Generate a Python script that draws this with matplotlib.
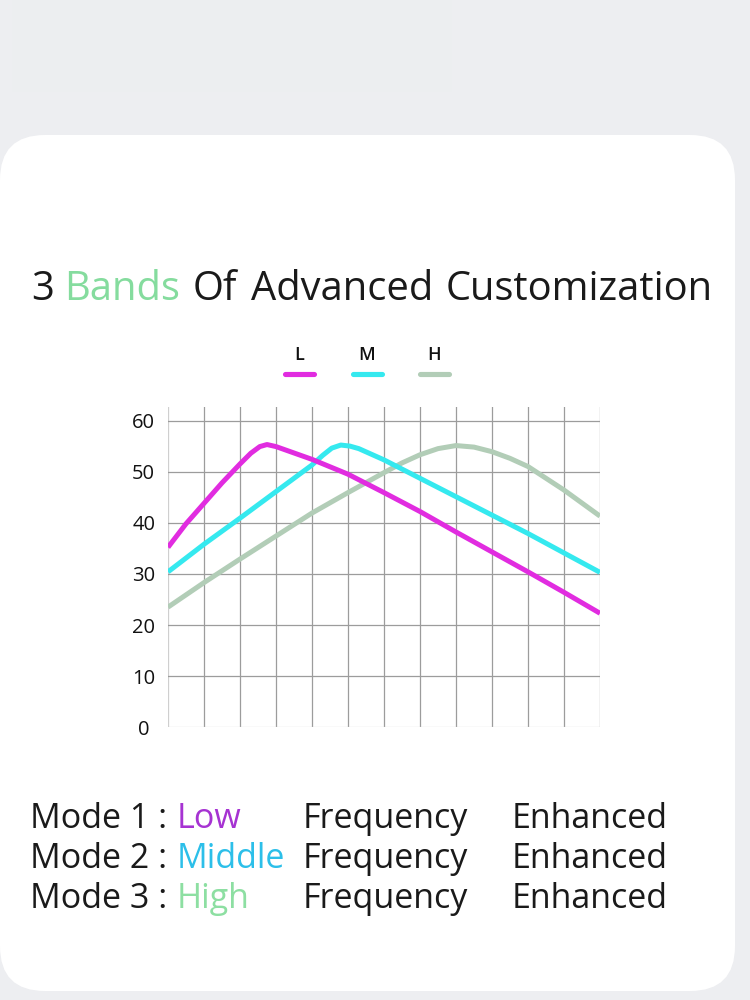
import matplotlib.pyplot as plt
from matplotlib.patches import FancyBboxPatch, Rectangle
from matplotlib.lines import Line2D
from matplotlib.transforms import Affine2D

# curve readings (x in grid columns, y in dB-like units)
low_x = [0, 0.5, 1, 1.5, 2, 2.3, 2.55, 2.75, 3, 4, 5, 6, 7, 8, 9, 10, 11, 12]
low_y = [35.2, 39.8, 43.8, 47.8, 51.5, 53.6, 54.9, 55.3, 54.9, 52.4, 49.5, 45.9, 42.2, 38.2, 34.3, 30.4, 26.4, 22.3]

mid_x = [0, 1, 2, 3, 4, 4.3, 4.55, 4.8, 5.05, 5.3, 6, 7, 8, 9, 10, 11, 12]
mid_y = [30.4, 35.8, 40.9, 46.1, 51.3, 53.2, 54.6, 55.2, 55.0, 54.5, 52.3, 48.7, 45.1, 41.5, 37.9, 34.1, 30.3]

high_x = [0, 1, 2, 3, 4, 5, 6, 6.5, 7, 7.5, 8, 8.5, 9, 9.5, 10, 11, 12]
high_y = [23.5, 28.3, 32.9, 37.4, 41.9, 45.9, 49.8, 51.7, 53.3, 54.5, 55.1, 54.8, 53.9, 52.6, 51.0, 46.4, 41.3]

y_ticks = [0, 10, 20, 30, 40, 50, 60]
x_grid = list(range(13))
legend_names = ["L", "M", "H"]
mode_names = ["Mode 1 :", "Mode 2 :", "Mode 3 :"]
band_words = ["Low", "Middle", "High"]
title_words = ["3", "Bands", "Of", "Advanced", "Customization"]

MAG = "#e12ce0"
CYAN = "#35e9ef"
SAGE = "#b2cdb7"
colors = [MAG, CYAN, SAGE]
word_colors = ["#a633d2", "#2cbfe9", "#8ddfa2"]
FONT = ["Open Sans", "DejaVu Sans"]
INK = "#1a1a1a"

W, H = 750, 1000
fig = plt.figure(figsize=(7.5, 10), dpi=100)
fig.patch.set_facecolor("#edeef1")

# pixel transform, y pointing down
pix = Affine2D().scale(1 / W, -1 / H).translate(0, 1) + fig.transFigure

fig.patches.append(Rectangle((12, 0), 440, 92, transform=pix, fc="#eceef0", ec="none", zorder=-6))
card = FancyBboxPatch((0, 135), 735, 856, boxstyle="round,pad=0,rounding_size=45",
                      transform=pix, fc="white", ec="none", zorder=-5)
fig.patches.append(card)

# title, one word at a time
TS = 28.7
title_x = [31, 64, 193, 251, 446]
for word, tx in zip(title_words, title_x):
    col = "#85dc9e" if word == "Bands" else INK
    fig.text(tx, 300.5, word, transform=pix, fontsize=TS, family=FONT, color=col, va="baseline")

# legend
for i, name in enumerate(legend_names):
    cx = 299.5 + i * 67.5
    fig.text(cx, 360.5, name, transform=pix, fontsize=13, family=FONT, color="#111111",
             ha="center", va="baseline", fontweight="semibold")
    fig.lines.append(Line2D([cx - 14.5, cx + 14.5], [374, 374], transform=pix, color=colors[i],
                            lw=3.7, solid_capstyle="round"))

# chart
ax = fig.add_axes([168 / W, 1 - 727.3 / H, 432 / W, 320.6 / H])
ax.set_facecolor("none")
ax.set_xlim(0, 12)
ax.set_ylim(0, 62.7)
for s in ax.spines.values():
    s.set_visible(False)
for xv in x_grid:
    ax.axvline(xv, color="#cfcfcf" if xv == 0 else "#9c9c9c", lw=0.9, zorder=1)
for yv in y_ticks:
    ax.axhline(yv, color="#d0d0d0" if yv == 0 else "#9c9c9c", lw=0.9, zorder=1)

ax.plot(high_x, high_y, color=SAGE, lw=3.6, solid_capstyle="butt", solid_joinstyle="round", zorder=3)
ax.plot(mid_x, mid_y, color=CYAN, lw=3.6, solid_capstyle="butt", solid_joinstyle="round", zorder=4)
ax.plot(low_x, low_y, color=MAG, lw=3.6, solid_capstyle="butt", solid_joinstyle="round", zorder=5)

ax.set_xticks([])
ax.set_yticks(y_ticks)
ax.set_yticklabels([str(v) for v in y_ticks])
ax.tick_params(axis="y", length=0, pad=17.5, labelsize=14.5, labelcolor="#111111")
for lab in ax.get_yticklabels():
    lab.set_ha("center")
    lab.set_family(FONT)

# mode lines
MS = 24.5
for i in range(3):
    yb = 828.5 + i * 39.5
    fig.text(30, yb, mode_names[i], transform=pix, fontsize=MS, family=FONT, color=INK, va="baseline")
    fig.text(177, yb, band_words[i], transform=pix, fontsize=MS, family=FONT, color=word_colors[i], va="baseline")
    fig.text(303, yb, "Frequency", transform=pix, fontsize=MS, family=FONT, color=INK, va="baseline")
    fig.text(512, yb, "Enhanced", transform=pix, fontsize=MS, family=FONT, color=INK, va="baseline")

fig.savefig("out.png", dpi=100, facecolor=fig.get_facecolor())
